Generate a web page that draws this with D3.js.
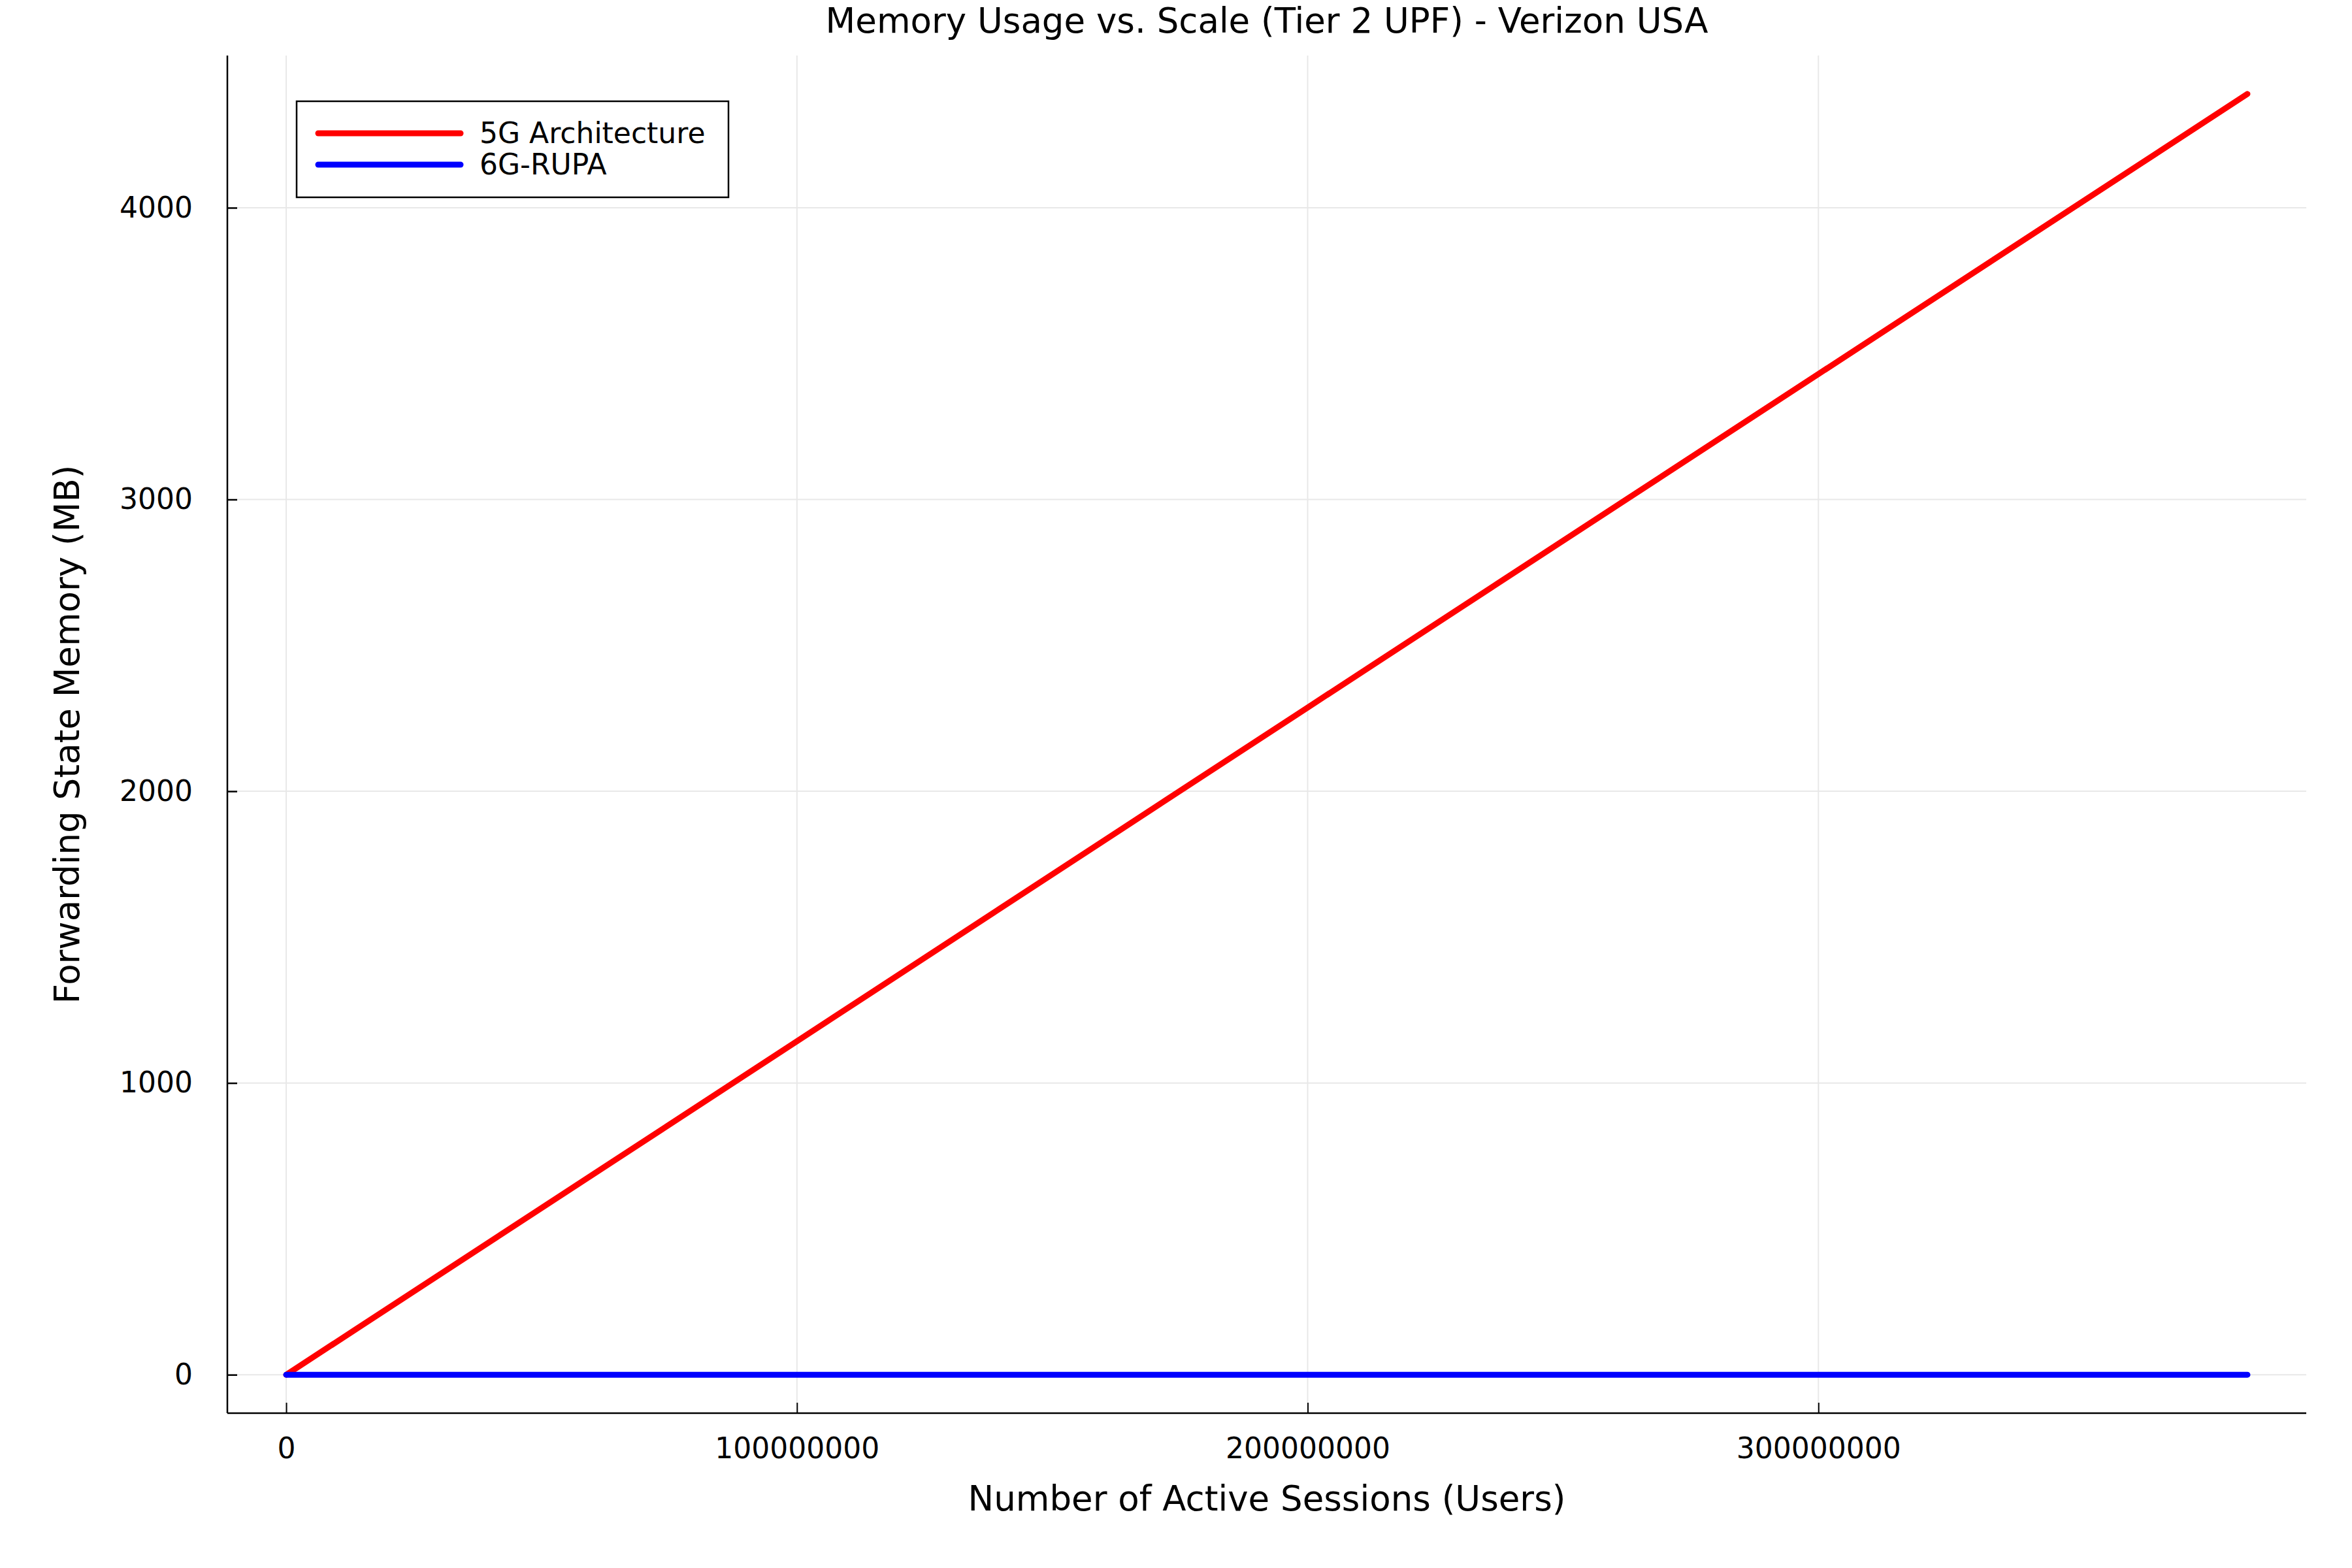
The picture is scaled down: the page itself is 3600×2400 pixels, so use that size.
<!DOCTYPE html>
<html>
<head>
<meta charset="utf-8">
<script src="https://cdn.jsdelivr.net/npm/d3@7"></script>
<style>
    body { margin: 0; background: #fff; }
    text { font-family: "DejaVu Sans", sans-serif; fill: #000; }
</style>
</head>
<body>
<div id="chart"></div>
<script>
// sessions, memory (MB)
const sessions = [0, 100000000, 200000000, 300000000, 384000000];
const mem5G = [0, 1143, 2287, 3430, 4390];
const mem6G = [0, 0, 0, 0, 0];

const seriesNames = ["5G Architecture", "6G-RUPA"];
const seriesColors = ["#ff0000", "#0000ff"];

const xTicks = [0, 100000000, 200000000, 300000000];
const yTicks = [0, 1000, 2000, 3000, 4000];

const chartTitle = "Memory Usage vs. Scale (Tier 2 UPF) - Verizon USA";
const xLabel = "Number of Active Sessions (Users)";
const yLabel = "Forwarding State Memory (MB)";

const W = 3600, H = 2400;
const MARGIN = { LEFT: 348, RIGHT: 70, TOP: 85, BOTTOM: 237 };
const WIDTH = W - MARGIN.LEFT - MARGIN.RIGHT;
const HEIGHT = H - MARGIN.TOP - MARGIN.BOTTOM;

const svg = d3.select("#chart").append("svg")
    .attr("width", W)
    .attr("height", H);

svg.append("rect").attr("width", W).attr("height", H).attr("fill", "#fff");

const g = svg.append("g")
    .attr("transform", `translate(${MARGIN.LEFT}, ${MARGIN.TOP})`);

// 3% padding on each side, like Plots.jl
const xExt = d3.extent(sessions);
const xPad = (xExt[1] - xExt[0]) * 0.03;
const yMax = d3.max(mem5G.concat(mem6G));
const yMin = d3.min(mem5G.concat(mem6G));
const yPad = (yMax - yMin) * 0.03;

const x = d3.scaleLinear().domain([xExt[0] - xPad, xExt[1] + xPad]).range([0, WIDTH]);
const y = d3.scaleLinear().domain([yMin - yPad, yMax + yPad]).range([HEIGHT, 0]);

// grid
g.append("g").selectAll("line").data(xTicks).join("line")
    .attr("x1", d => x(d)).attr("x2", d => x(d))
    .attr("y1", 0).attr("y2", HEIGHT)
    .attr("stroke", "#e8e8e8").attr("stroke-width", 2);
g.append("g").selectAll("line").data(yTicks).join("line")
    .attr("y1", d => y(d)).attr("y2", d => y(d))
    .attr("x1", 0).attr("x2", WIDTH)
    .attr("stroke", "#e8e8e8").attr("stroke-width", 2);

// X Axis
const xAxis = g.append("g")
    .attr("transform", `translate(0, ${HEIGHT})`)
    .call(d3.axisBottom(x).tickValues(xTicks).tickFormat(d3.format("d"))
        .tickSizeInner(-16).tickSizeOuter(0).tickPadding(38));
xAxis.select(".domain").attr("stroke-width", 2.5).attr("d", `M0,0H${WIDTH}`);
xAxis.selectAll(".tick line").attr("stroke-width", 2);
xAxis.selectAll(".tick text")
    .style("font-size", "44px").style("font-family", "DejaVu Sans");

// Y Axis
const yAxis = g.append("g")
    .call(d3.axisLeft(y).tickValues(yTicks).tickFormat(d3.format("d"))
        .tickSizeInner(-15).tickSizeOuter(0).tickPadding(53));
yAxis.select(".domain").attr("stroke-width", 2.5).attr("d", `M0,0V${HEIGHT}`);
yAxis.selectAll(".tick line").attr("stroke-width", 2.5);
yAxis.selectAll(".tick text")
    .style("font-size", "44px").style("font-family", "DejaVu Sans");

// lines
const line = d3.line()
    .x((d, i) => x(sessions[i]))
    .y(d => y(d));

[mem5G, mem6G].forEach((vals, i) => {
    g.append("path")
        .datum(vals)
        .attr("fill", "none")
        .attr("stroke", seriesColors[i])
        .attr("stroke-width", 9)
        .attr("stroke-linecap", "round")
        .attr("stroke-linejoin", "round")
        .attr("d", line);
});

// legend
const legend = svg.append("g").attr("transform", "translate(454, 155)");
legend.append("rect")
    .attr("width", 661).attr("height", 147)
    .attr("fill", "#fff").attr("stroke", "#000").attr("stroke-width", 2.5);
seriesNames.forEach((name, i) => {
    const ly = 49 + i * 48;
    legend.append("line")
        .attr("x1", 33).attr("x2", 251)
        .attr("y1", ly).attr("y2", ly)
        .attr("stroke", seriesColors[i])
        .attr("stroke-width", 9)
        .attr("stroke-linecap", "round");
    legend.append("text")
        .attr("x", 280).attr("y", ly + 15)
        .style("font-size", "44px")
        .text(name);
});

// titles
svg.append("text")
    .attr("text-anchor", "middle")
    .attr("x", MARGIN.LEFT + WIDTH / 2)
    .attr("y", 50)
    .style("font-size", "53px")
    .text(chartTitle);

svg.append("text")
    .attr("text-anchor", "middle")
    .attr("x", MARGIN.LEFT + WIDTH / 2)
    .attr("y", 2312)
    .style("font-size", "53px")
    .text(xLabel);

svg.append("text")
    .attr("text-anchor", "middle")
    .attr("transform", `translate(121, ${MARGIN.TOP + HEIGHT / 2}) rotate(-90)`)
    .style("font-size", "53px")
    .text(yLabel);
</script>
</body>
</html>
